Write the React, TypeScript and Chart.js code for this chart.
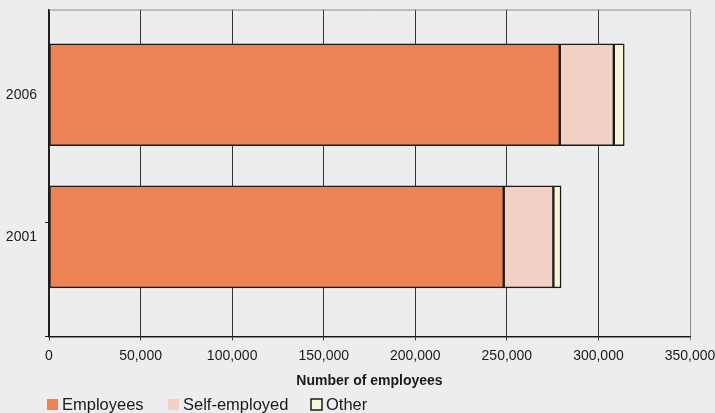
import React, { useEffect, useRef } from "react";
import { Chart, registerables } from "chart.js";

Chart.register(...registerables);

const categories = ["2006", "2001"];
const employees = [278900, 248300];
const selfEmployed = [29500, 27100];
const other = [5700, 4200];
const xTicks = [0, 50000, 100000, 150000, 200000, 250000, 300000, 350000];
const yRange = [-0.6, 1.7];
const yTickMarks = [0.9, 1.7];
const axisTitle = "Number of employees";
const seriesNames = ["Employees", "Self-employed", "Other"];
const seriesColors = ["#ED8255", "#F2D0C4", "#F6F5D9"];

const FONT = "'Liberation Sans', Arial, sans-serif";

const bgPlugin = {
  id: "bgPlugin",
  beforeDraw(chart: any) {
    const { ctx, width, height } = chart;
    ctx.save();
    ctx.fillStyle = "#ecedef";
    ctx.fillRect(0, 0, width, height);
    ctx.restore();
  },
  beforeDatasetsDraw(chart: any) {
    const { ctx, chartArea } = chart;
    ctx.save();
    ctx.strokeStyle = "#8a8a8a";
    ctx.lineWidth = 1;
    ctx.beginPath();
    ctx.moveTo(chartArea.left, chartArea.top + 0.5);
    ctx.lineTo(chartArea.right, chartArea.top + 0.5);
    ctx.stroke();
    ctx.restore();
  },
};

const legendPlugin = {
  id: "customLegend",
  afterDraw(chart: any) {
    const { ctx } = chart;
    const items = chart.data.datasets;
    const boxStarts = [47, 168, 311];
    const y = 404;
    ctx.save();
    ctx.font = `16.5px ${FONT}`;
    ctx.textBaseline = "middle";
    items.forEach((ds: any, i: number) => {
      const x = boxStarts[i];
      ctx.fillStyle = ds.backgroundColor;
      ctx.fillRect(x, y - 5, 11, 11);
      if (i === 2) {
        ctx.strokeStyle = "#1a1a1a";
        ctx.lineWidth = 1.5;
        ctx.strokeRect(x, y - 5, 11, 11);
      }
      ctx.fillStyle = "#1a1a1a";
      ctx.fillText(ds.label, x + 15, y + 1);
    });
    ctx.restore();
  },
};

export default function App() {
  const ref = useRef<HTMLCanvasElement>(null);
  useEffect(() => {
    if (!ref.current) return;
    const values = [employees, selfEmployed, other];
    const chart = new Chart(ref.current, {
      type: "bar",
      data: {
        datasets: values.map((v, i) => ({
          label: seriesNames[i],
          data: v.map((val, j) => ({ x: val, y: j })),
          backgroundColor: seriesColors[i],
          borderColor: "#1a1a1a",
          borderWidth: 1.5,
          borderSkipped: false,
          barThickness: 102,
          grouped: false,
        })),
      },
      options: {
        indexAxis: "y",
        animation: false,
        responsive: false,
        maintainAspectRatio: false,
        layout: { padding: { top: 9.5, right: 25, bottom: 23, left: 0 } },
        plugins: {
          legend: { display: false },
          tooltip: { enabled: false },
        },
        scales: {
          x: {
            type: "linear",
            stacked: true,
            min: 0,
            max: 350000,
            afterBuildTicks: (scale: any) => {
              scale.ticks = xTicks.map((v) => ({ value: v }));
            },
            afterFit: (scale: any) => {
              scale.paddingLeft = 0;
              scale.paddingRight = 0;
            },
            ticks: {
              color: "#1a1a1a",
              font: { family: FONT, size: 14 },
              padding: 7,
              maxRotation: 0,
              callback: (v: any) => Number(v).toLocaleString("en-US"),
            },
            grid: {
              color: (c: any) => (c.tick && c.tick.value === 350000 ? "#8a8a8a" : "#333333"),
              lineWidth: 1,
              tickLength: 4,
            },
            border: { color: "#1a1a1a", width: 1.5 },
            title: {
              display: true,
              text: axisTitle,
              color: "#1a1a1a",
              font: { family: FONT, size: 14, weight: "bold" },
              padding: { top: 2, bottom: 0 },
            },
          },
          y: {
            type: "linear",
            reverse: true,
            offset: false,
            min: yRange[0],
            max: yRange[1],
            afterBuildTicks: (scale: any) => {
              const vals = [...categories.map((_, i) => i), ...yTickMarks].sort((a, b) => a - b);
              scale.ticks = vals.map((v) => ({ value: v }));
            },
            afterFit: (scale: any) => {
              scale.width = 49;
              scale.paddingTop = 0;
              scale.paddingBottom = 0;
            },
            ticks: {
              autoSkip: false,
              color: "#1a1a1a",
              font: { family: FONT, size: 14 },
              padding: 8,
              callback: (v: any) => {
                const n = Number(v);
                return Number.isInteger(n) && categories[n] !== undefined ? categories[n] : "";
              },
            },
            grid: {
              offset: false,
              drawOnChartArea: false,
              drawTicks: true,
              tickLength: 4,
              color: "#1a1a1a",
              tickColor: (c: any) =>
                c.tick && yTickMarks.includes(c.tick.value) ? "#1a1a1a" : "rgba(0,0,0,0)",
            },
            border: { color: "#1a1a1a", width: 1.5 },
          },
        },
      },
      plugins: [bgPlugin, legendPlugin],
    });
    return () => chart.destroy();
  }, []);
  return (
    <div style={{ position: "absolute", left: 0, top: 0, width: 715, height: 413 }}>
      <canvas ref={ref} width={715} height={413} style={{ width: 715, height: 413 }} />
    </div>
  );
}
